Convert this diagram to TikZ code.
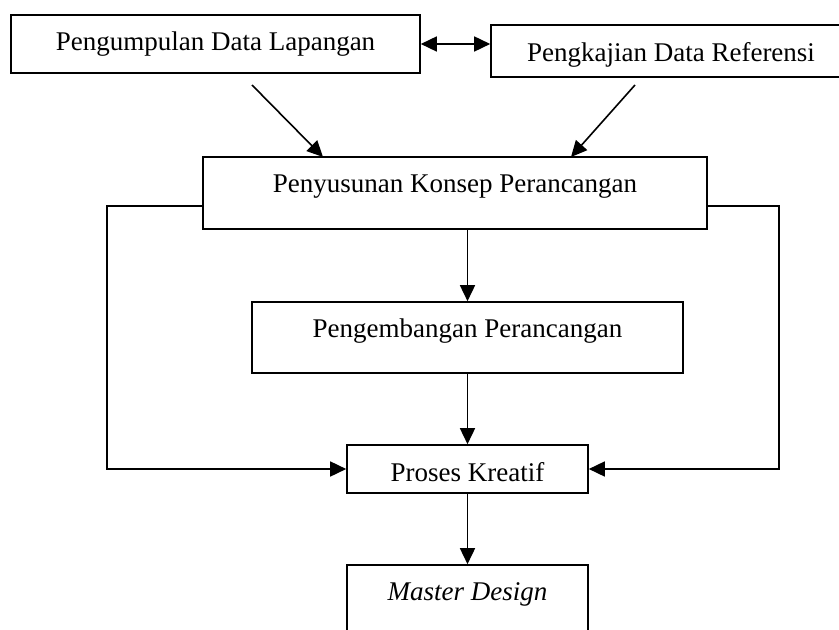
\documentclass[tikz,border=0pt]{standalone}
\usepackage{fontspec}
\setmainfont{Liberation Serif}
\usepackage{tikz}
\usetikzlibrary{arrows.meta,positioning,calc}

\begin{document}
\begin{tikzpicture}[x=0.5pt, y=-0.5pt,
    font=\fontsize{13.5}{16}\selectfont,
    >={Triangle[length=8pt, width=7.5pt]},
    stagebox/.style={draw, line width=0.8pt, inner sep=3pt},
    flow/.style={line width=0.8pt, ->},
    link/.style={line width=0.8pt}]

    % Page frame in pixel units of the reference (839 x 630)
    \useasboundingbox (0,0) rectangle (839,630);
    \clip (0,0) rectangle (839,630);

    % Data collection row
    \node[stagebox, minimum width=204.5pt, minimum height=29pt,
          text height=10pt, text depth=3pt] (lapangan) at (215.5,44) {Pengumpulan Data Lapangan};
    \node[stagebox, minimum width=180pt, minimum height=26pt,
          text height=13pt, text depth=2pt] (referensi) at (671,51) {Pengkajian Data Referensi};

    % Main column
    \node[stagebox, minimum width=252pt, minimum height=36pt,
          text height=8pt, text depth=8pt] (konsep) at (455,193) {Penyusunan Konsep Perancangan};
    \node[stagebox, minimum width=215.5pt, minimum height=35.5pt,
          text height=8pt, text depth=8pt] (pengembangan) at (467.5,337.5) {Pengembangan Perancangan};
    \node[stagebox, minimum width=120.5pt, minimum height=24pt,
          text height=14pt, text depth=2pt] (kreatif) at (467.5,469) {Proses Kreatif};
    \node[stagebox, minimum width=120.5pt, minimum height=35.5pt,
          text height=8pt, text depth=8pt] (master) at (467.5,600.5) {\textit{Master Design}};

    % Free ends of the slanted arrows and side bends
    \coordinate (lapanganOut) at (252,85);
    \coordinate (referensiOut) at (635,85);
    \coordinate (konsepIn1) at (323,157);
    \coordinate (konsepIn2) at (571,157);
    \coordinate (bendL) at (107,206);
    \coordinate (bendR) at (779,206);

    \draw[link, <->] (lapangan.east) -- (lapangan.east -| referensi.west);
    \draw[flow] (lapanganOut) -- (konsepIn1);
    \draw[flow] (referensiOut) -- (konsepIn2);

    \draw[flow] (pengembangan.north |- konsep.south) -- (pengembangan.north);
    \draw[flow] (pengembangan.south) -- (kreatif.north);
    \draw[flow] (kreatif.south) -- (master.north);

    % Side feedback into the creative process
    \draw[flow] (konsep.west |- bendL) -- (bendL) |- (kreatif.west);
    \draw[flow] (konsep.east |- bendR) -- (bendR) |- (kreatif.east);
\end{tikzpicture}
\end{document}
